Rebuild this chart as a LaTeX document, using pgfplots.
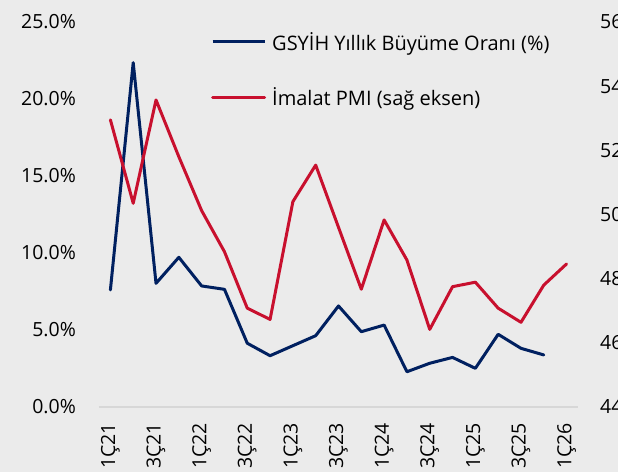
\documentclass[border=0pt]{standalone}
\usepackage{fontspec}
\setmainfont{Open Sans}
\usepackage{pgfplots}
\pgfplotsset{compat=1.18}
\definecolor{bg}{RGB}{235,235,235}
\definecolor{navy}{RGB}{0,32,96}
\definecolor{crim}{RGB}{200,16,46}
\definecolor{axgray}{RGB}{215,215,215}
\pgfplotsset{
  common/.style={
    at={(0,0)}, anchor=south west, scale only axis,
    width=479bp, height=385bp,
    xmin=-0.5, xmax=20.5,
    font=\fontsize{19.5bp}{23bp}\selectfont,
    major tick length=0pt,
    /pgf/number format/assume math mode=true,
  }
}
\begin{document}
\begin{tikzpicture}[x=1bp,y=1bp]
\fill[bg] (-99,-65) rectangle (519,407);
\begin{scope}
\clip (-99,-65) rectangle (519,407);
\begin{axis}[common,
  ymin=0, ymax=25,
  axis x line*=bottom, axis y line*=left,
  x axis line style={draw=axgray, line width=1.2bp, -},
  y axis line style={draw=none},
  xtick={0,2,...,20},
  xticklabels={1Ç21,3Ç21,1Ç22,3Ç22,1Ç23,3Ç23,1Ç24,3Ç24,1Ç25,3Ç25,1Ç26},
  xticklabel style={rotate=90, anchor=east, inner sep=0pt},
  xticklabel shift=16bp,
  ytick={0,5,...,25},
  yticklabels={0.0\%,5.0\%,10.0\%,15.0\%,20.0\%,25.0\%},
  yticklabel style={anchor=east, inner sep=0pt},
  yticklabel shift=23bp,
]
\addplot[navy, line width=3bp, line join=round, line cap=round] coordinates {
(0,7.6) (1,22.36) (2,8.03) (3,9.72) (4,7.86) (5,7.64) (6,4.14) (7,3.33)
(8,3.98) (9,4.63) (10,6.56) (11,4.89) (12,5.32) (13,2.29) (14,2.84)
(15,3.22) (16,2.51) (17,4.72) (18,3.81) (19,3.38)
};
\end{axis}
\begin{axis}[common,
  ymin=44, ymax=56,
  axis x line=none, axis y line*=right,
  y axis line style={draw=none},
  ytick={44,46,...,56},
  yticklabel style={anchor=west, inner sep=0pt},
  yticklabel shift=22bp,
  legend cell align=left,
  legend image code/.code={\draw[#1] (0bp,0bp) -- (52bp,0bp);},
  legend style={draw=none, fill=none, inner sep=0pt,
    at={(0.2338,0.974)}, anchor=north west,
    row sep=36bp,
    font=\fontsize{20bp}{24bp}\selectfont,
    nodes={inner sep=0pt, anchor=west},
    /tikz/every odd column/.append style={column sep=6bp}},
]
\addlegendimage{navy, line width=3bp}
\addlegendentry{GSYİH Yıllık Büyüme Oranı (\%)}
\addplot[crim, line width=3bp, line join=round, line cap=round] coordinates {
(0,52.95) (1,50.35) (2,53.57) (3,51.8) (4,50.12) (5,48.84) (6,47.08)
(7,46.73) (8,50.40) (9,51.54) (10,49.6) (11,47.67) (12,49.83) (13,48.58)
(14,46.42) (15,47.75) (16,47.89) (17,47.08) (18,46.64) (19,47.8) (20,48.46)
};
\addlegendentry{İmalat PMI (sağ eksen)}
\end{axis}
\end{scope}
\pgfresetboundingbox
\useasboundingbox (-99,-65) rectangle (519,407);
\end{tikzpicture}
\end{document}
